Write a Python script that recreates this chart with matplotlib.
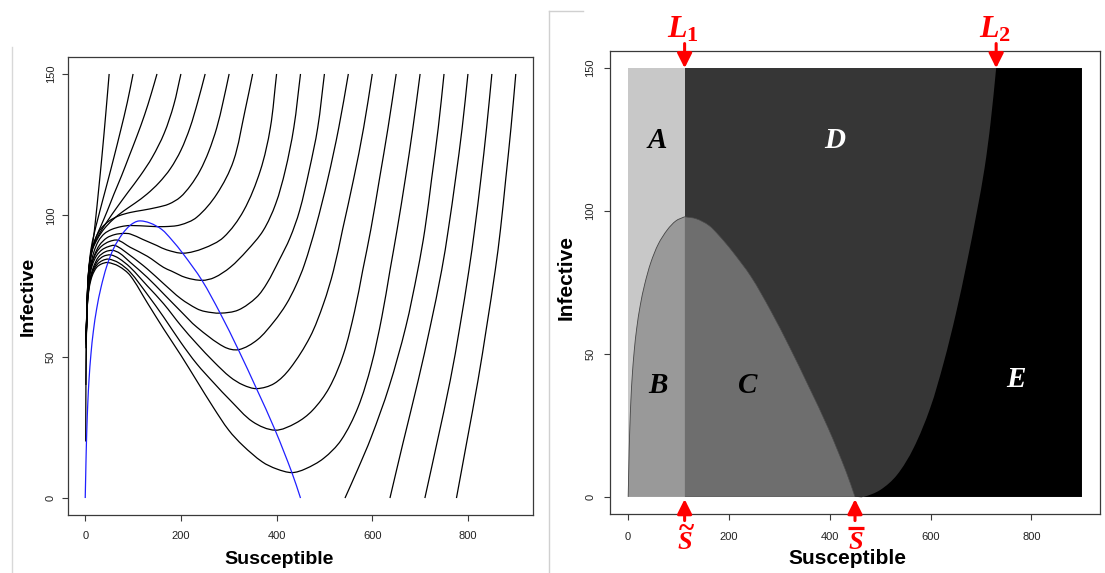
import matplotlib
matplotlib.use('Agg')
import matplotlib.pyplot as plt
from matplotlib.lines import Line2D
from matplotlib.path import Path
from matplotlib.patches import PathPatch

plt.rcParams['font.family'] = ['Liberation Sans', 'DejaVu Sans']
plt.rcParams['mathtext.fontset'] = 'custom'
plt.rcParams['mathtext.it'] = 'Liberation Serif:italic:bold'
plt.rcParams['mathtext.rm'] = 'Liberation Serif:bold'
plt.rcParams['mathtext.bf'] = 'Liberation Serif:bold'

# ---- trajectories (Susceptible, Infective) ----
s050 = [50, 43, 35, 28, 21, 16, 11, 8, 5, 3.2, 2, 1.3, 1]
i050 = [150, 136, 121, 109, 97.5, 90.5, 85.8, 80.5, 73.5, 64, 50, 35, 20]

s100 = [100, 88, 74, 60, 47, 36, 26, 18, 12, 8, 5, 3, 2, 1.4]
i100 = [150, 140, 130, 120.5, 112, 105, 98.5, 93, 88, 82, 74.5, 64.5, 52, 40]

s150 = [150, 138, 124, 108, 92, 76, 60, 46, 33, 22, 14, 8, 5, 3, 2]
i150 = [150, 143, 135.5, 128, 121, 114, 107.5, 101.5, 96.3, 92, 87.5, 82, 74.5, 64.5, 53]

s200 = [200, 185, 165, 140, 115, 90, 65, 45, 28, 15, 8, 5, 3, 2]
i200 = [150, 139, 129, 120.5, 114, 108.3, 102.5, 97.6, 93, 88.3, 81.5, 74, 64, 53]

s250 = [250.7, 235, 219, 200, 178, 154, 129, 104, 80, 58, 40, 26, 15, 8, 5, 3, 2]
i250 = [150, 140, 131, 123, 116.5, 111.5, 107.5, 104.3, 101.5, 98.5, 95.3, 91.8, 87.7, 81, 73.5, 63.5, 54]

s300 = [300.8, 288, 275, 258, 240, 220, 198.5, 175, 150, 120, 94, 70, 50, 34, 22, 14, 8, 5, 3, 2]
i300 = [150, 140, 131, 122.5, 115.8, 110.5, 106.4, 104, 102.8, 101.8, 101, 99.8, 98, 95.5, 92, 87.5, 81, 73, 63.5, 54.5]

s350 = [350, 334, 310, 275, 233, 198.5, 165, 136, 94, 75, 55, 40, 28, 18, 11, 6, 3.5, 2]
i350 = [150, 137, 119.3, 107.5, 99.3, 96.6, 96, 96.1, 96.4, 96, 95, 93.5, 91, 87, 82, 74.5, 64.6, 55]

s400 = [400, 387, 366, 331, 289, 247, 205, 170, 150, 120, 94, 80, 62, 45, 30, 19, 11, 6, 3.5, 2]
i400 = [150, 131, 115.8, 101.6, 92.2, 88.3, 86.6, 87.8, 89.3, 91.5, 93.4, 93.6, 93.2, 92, 89.5, 85.8, 81.2, 74, 64.4, 55.3]

s450 = [450, 436, 418, 398, 372, 338, 303, 270, 244, 210, 180, 163.6, 130, 94, 68, 50, 35, 24, 15, 9, 5, 3, 2]
i450 = [150, 131, 115.8, 104, 94.6, 87.5, 81.6, 78, 77, 78, 80.3, 81.6, 85.5, 88.7, 91.2, 90.7, 89.2, 87, 83.5, 78.8, 72.5, 63.5, 55.5]

s500 = [500, 486, 468, 448, 428, 405, 380, 358, 320, 282, 250, 233, 200, 164, 130, 94, 63, 48, 35, 24, 15, 9, 5, 3, 2]
i500 = [150, 131, 115.8, 101.6, 92, 84, 76, 71, 66.5, 65.4, 66, 67, 70.5, 75.8, 81, 85.8, 89.3, 88.9, 87.8, 85.8, 82.5, 78.2, 72, 63.5, 56]

s550 = [550, 530, 507, 482, 458, 440, 420, 395, 360, 321, 290, 233, 200, 164, 130, 94, 72, 57, 42, 28, 17, 10, 5.5, 3, 2]
i550 = [150, 131, 112.8, 96, 82.5, 75, 68.5, 62.5, 56, 52.5, 53.5, 60.5, 66, 72.2, 78, 83.4, 86.6, 87.6, 87.1, 85.3, 81.6, 77.3, 71.2, 63, 56.5]

s600 = [600, 582, 561, 538, 519, 498, 470, 428, 395, 358.6, 330, 303, 270, 233, 200, 164, 130, 94, 70, 53, 38, 26, 16, 9.5, 5, 3, 2]
i600 = [150, 131, 112.8, 95, 80.5, 68.7, 57, 45.8, 40.5, 38.7, 40, 42.8, 48, 54.6, 61, 68.7, 75, 81.6, 84.8, 86, 85.5, 83.8, 80.5, 76.6, 70.6, 62.8, 57]

s650 = [650, 633, 615, 597, 580, 563, 540, 510, 475, 440, 397, 350, 303, 270, 233, 200, 164, 130, 94, 70, 49, 36, 25, 15, 9, 5, 3, 2]
i650 = [150, 131, 112.8, 95, 80.5, 66, 51, 39, 31, 26.5, 24, 27, 34.6, 40.5, 47.5, 55, 64, 72, 79.9, 83.2, 84.5, 84, 82.6, 79.6, 75.8, 70, 62.5, 57.5]

s700 = [700, 685, 669, 652, 637, 620, 598, 570, 535, 498, 460, 432, 400, 370, 330, 300, 268, 233, 200, 164, 130, 94, 70, 47, 34, 24, 15, 9, 5, 3, 2]
i700 = [150, 131, 112.8, 95, 80.5, 64, 47, 32, 20.5, 14, 10.3, 9, 10.3, 12.8, 18.5, 24, 32, 41.5, 50.5, 59.8, 69, 78.7, 82, 83.3, 82.8, 81.6, 78.8, 75, 69.5, 62.5, 58]

s750 = [750, 738, 724, 710, 695, 670, 635, 598, 569, 543]
i750 = [150, 131, 112.8, 95, 80.5, 60.5, 39.3, 21.6, 9.9, 0]

s800 = [800, 788, 774, 759, 745, 721, 696, 664, 637]
i800 = [150, 131, 112.8, 95, 80.5, 60.5, 41.6, 19.3, 0]

s850 = [850, 839, 827, 814, 802, 783, 763, 735, 710]
i850 = [150, 131, 112.8, 95, 80.5, 60.5, 41.6, 19.3, 0]

s900 = [900, 890, 879, 868, 857, 839, 821, 797, 776]
i900 = [150, 131, 112.8, 95, 80.5, 60.5, 41.6, 19.3, 0]

# nullcline (blue curve) = boundary of regions B, C
null_s = [0, 1, 2, 3.5, 5.5, 8, 12, 17, 24, 33, 45, 60, 78, 95, 112, 135, 160, 180, 205, 244, 282, 320, 358, 397, 432, 450]
null_i = [0, 8, 16, 25, 34, 42, 51, 59, 67, 74.5, 82, 88.5, 93.5, 96.6, 98, 97.3, 95, 91.5, 86.3, 77, 65.4, 52.5, 38.7, 24, 9, 0]

# separatrix L2 (boundary between D and E)
l2_s = [450, 467, 500, 533, 566, 599, 626, 650, 672, 692, 707, 719, 730]
l2_i = [0, 0, 2.4, 7.6, 17, 31, 47, 64, 82, 100, 115, 131, 150]

S_tilde = 112
S_bar = 450
S_max = 900
I_max = 150

trajectories = [(s050, i050), (s100, i100), (s150, i150), (s200, i200), (s250, i250),
                (s300, i300), (s350, i350), (s400, i400), (s450, i450), (s500, i500),
                (s550, i550), (s600, i600), (s650, i650), (s700, i700), (s750, i750),
                (s800, i800), (s850, i850), (s900, i900)]

W, H = 1105, 573
KX, KY = 465 / 972, 458 / 162   # px per data unit, used only for chord lengths


def smooth(xs, ys):
    """Bezier path through the read points (chord-length Hermite tangents)."""
    n = len(xs)
    t = [0.0]
    for k in range(1, n):
        d = ((KX * (xs[k] - xs[k - 1])) ** 2 + (KY * (ys[k] - ys[k - 1])) ** 2) ** 0.5
        t.append(t[-1] + max(d, 1e-6))
    m = []
    for k in range(n):
        a, b = max(k - 1, 0), min(k + 1, n - 1)
        dt = t[b] - t[a]
        m.append(((xs[b] - xs[a]) / dt, (ys[b] - ys[a]) / dt))
    verts = [(xs[0], ys[0])]
    codes = [Path.MOVETO]
    for k in range(n - 1):
        h = (t[k + 1] - t[k]) / 3
        verts += [(xs[k] + m[k][0] * h, ys[k] + m[k][1] * h),
                  (xs[k + 1] - m[k + 1][0] * h, ys[k + 1] - m[k + 1][1] * h),
                  (xs[k + 1], ys[k + 1])]
        codes += [Path.CURVE4] * 3
    return verts, codes


def closed(verts, codes, extra):
    v = list(verts) + list(extra) + [verts[0]]
    c = list(codes) + [Path.LINETO] * len(extra) + [Path.CLOSEPOLY]
    return Path(v, c)


fig = plt.figure(figsize=(W / 100, H / 100), dpi=100, facecolor='white')


def r_axes(ax, xpad, ypad):
    ax.set_xlim(-36, 936)
    ax.set_ylim(-6, 156)
    ax.set_xticks([0, 200, 400, 600, 800])
    ax.set_yticks([0, 50, 100, 150])
    for sp in ax.spines.values():
        sp.set_color('#3a3a3a')
        sp.set_linewidth(0.9)
    ax.tick_params(direction='out', length=4, width=0.8, colors='#3a3a3a',
                   labelsize=8, labelcolor='#222222')
    ax.tick_params(axis='x', pad=xpad)
    ax.tick_params(axis='y', pad=ypad)
    for lbl in ax.get_yticklabels():
        lbl.set_rotation(90)
        lbl.set_va('center')


# ---- left panel: phase portrait ----
ax1 = fig.add_axes([68 / W, 58 / H, 465 / W, 458 / H])
for s, i in trajectories:
    v, c = smooth(s, i)
    ax1.add_patch(PathPatch(Path(v, c), fill=False, edgecolor='black', lw=0.9))
v, c = smooth(null_s, null_i)
ax1.add_patch(PathPatch(Path(v, c), fill=False, edgecolor='#2020ff', lw=0.9))
r_axes(ax1, 7.5, 4.8)

# ---- right panel: regions ----
ax2 = fig.add_axes([610 / W, 59 / H, 490 / W, 463 / H])
col_a, col_b, col_c, col_d, col_e = '#c8c8c8', '#999999', '#6e6e6e', '#363636', '#000000'
ax2.fill_between([0, S_tilde], 0, I_max, color=col_a, lw=0)
ax2.fill_between([S_tilde, S_max], 0, I_max, color=col_d, lw=0)

v, c = smooth(l2_s, l2_i)
ax2.add_patch(PathPatch(closed(v, c, [(S_max, I_max), (S_max, 0)]), facecolor=col_e, lw=0))

k = null_s.index(S_tilde)
v, c = smooth(null_s[:k + 1], null_i[:k + 1])
ax2.add_patch(PathPatch(closed(v, c, [(S_tilde, 0)]), facecolor=col_b, lw=0))
ax2.add_patch(PathPatch(Path(v, c), fill=False, edgecolor='#444444', lw=0.6))
v, c = smooth(null_s[k:], null_i[k:])
ax2.add_patch(PathPatch(closed(v, c, [(S_tilde, 0)]), facecolor=col_c, lw=0))
ax2.add_patch(PathPatch(Path(v, c), fill=False, edgecolor='#4a4a4a', lw=0.5))
r_axes(ax2, 8.6, 6.5)

serif_bi = dict(fontweight='bold', fontstyle='italic', family='Liberation Serif')
ax2.text(58, 124.6, 'A', color='black', fontsize=21, ha='center', va='center', **serif_bi)
ax2.text(60, 39, 'B', color='black', fontsize=21, ha='center', va='center', **serif_bi)
ax2.text(238, 39, 'C', color='black', fontsize=21, ha='center', va='center', **serif_bi)
ax2.text(409, 124.6, 'D', color='white', fontsize=21, ha='center', va='center', **serif_bi)
ax2.text(770, 41, 'E', color='white', fontsize=21, ha='center', va='center', **serif_bi)

arrow = dict(arrowstyle='-|>,head_length=0.8,head_width=0.4', color='red',
             lw=2.2, mutation_scale=11, shrinkA=0, shrinkB=0)
for sx, lab in [(S_tilde, r'$L_1$'), (730, r'$L_2$')]:
    ax2.annotate('', xy=(sx, I_max), xytext=(sx, 158.6), arrowprops=arrow,
                 annotation_clip=False)
    ax2.text(sx - 3, 163.5, lab, color='red', fontsize=23, ha='center',
             va='center', clip_on=False)

# S-tilde and S-bar below the x axis
for sx in (S_tilde, S_bar):
    ax2.annotate('', xy=(sx, -0.8), xytext=(sx, -8.3), arrowprops=arrow,
                 annotation_clip=False)
    ax2.text(sx + 1, -18.3, 'S', color='red', fontsize=19, ha='center',
             va='baseline', clip_on=False, **serif_bi)
ax2.text(S_tilde + 4, -14.2, '~', color='red', fontsize=21, ha='center',
         va='baseline', clip_on=False, fontweight='bold', family='Liberation Serif')
ax2.plot([S_bar - 14, S_bar + 18], [-10.9, -10.9], color='red', lw=2.3,
         solid_capstyle='butt', clip_on=False)

# axis titles
lab = dict(fontweight='bold', ha='center', va='center', color='black')
fig.text(28.6 / W, 1 - 296 / H, 'Infective', rotation=90, fontsize=14, **lab)
fig.text(278.6 / W, 1 - 560 / H, 'Susceptible', fontsize=14, **lab)
fig.text(565.7 / W, 1 - 277.8 / H, 'Infective', rotation=90, fontsize=15, **lab)
fig.text(847.9 / W, 1 - 559 / H, 'Susceptible', fontsize=15, **lab)

# faint frame lines of the two panels
fig.add_artist(Line2D([12 / W, 12 / W], [0, 1 - 47 / H], color='#d8d8d8', lw=1))
fig.add_artist(Line2D([548.6 / W, 548.6 / W], [0, 1 - 11 / H], color='#d0d0d0', lw=1))
fig.add_artist(Line2D([548.6 / W, 582.5 / W], [1 - 11 / H, 1 - 11 / H], color='#d0d0d0', lw=1))

fig.savefig('out.png', dpi=100, facecolor='white')
